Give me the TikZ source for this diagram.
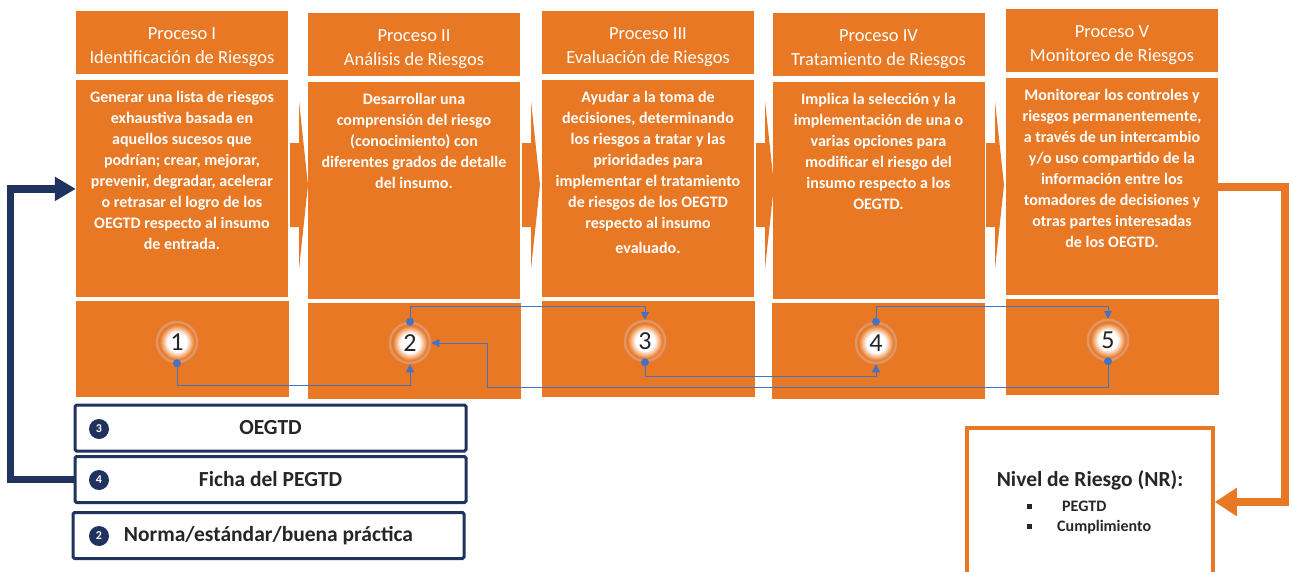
\documentclass[tikz,border=0pt]{standalone}
\usepackage{fontspec}
\setmainfont{Carlito}
\usetikzlibrary{arrows.meta,positioning,calc}
\definecolor{naranja}{RGB}{233,120,36}
\definecolor{anillo}{RGB}{222,150,105}
\definecolor{marino}{RGB}{31,51,94}
\definecolor{azul}{RGB}{68,114,196}
\definecolor{tinta}{RGB}{38,38,38}
\pgfdeclareradialshading{brillo}{\pgfpoint{0bp}{0bp}}{color(0bp)=(white); color(12bp)=(white); color(22bp)=(naranja); color(25bp)=(naranja); color(50bp)=(naranja)}
\newcommand{\bajar}{\rule{0pt}{21pt}}
\tikzset{
>={Triangle},
  cabecera/.style={
    rectangle,
    fill=naranja,
    text=white,
    minimum width=212pt,
    minimum height=63pt,
    inner sep=0pt,
    align=center,
    font=\fontsize{18.5}{24}\selectfont},
  cuerpo/.style={rectangle, fill=naranja, minimum width=212pt,
    minimum height=217pt, inner sep=0pt},
  texto/.style={text=white, align=center, inner sep=0pt,
    font=\bfseries\fontsize{16}{21}\selectfont},
  fila/.style={rectangle, fill=naranja, minimum width=213pt,
    minimum height=96pt, inner sep=0pt},
  numero/.style={
    circle,
    minimum size=40pt,
    inner sep=0pt,
    shading=brillo,
    draw=anillo, line width=2.5pt,
    text=tinta,
    font=\fontsize{26}{26}\selectfont},
  insumo/.style={
    rectangle,
    rounded corners=1.5pt,
    draw=marino, line width=3pt,
    fill=white,
    minimum width=391pt,
    minimum height=46pt,
    text=tinta,
    font=\bfseries\fontsize{21.5}{21.5}\selectfont},
  ficha/.style={circle, fill=marino, text=white, minimum size=20pt,
    inner sep=0pt, font=\bfseries\fontsize{12}{12}\selectfont},
}

\begin{document}
\begin{tikzpicture}[
    x=1pt, y=-1pt,
    flujo/.style={draw=azul, line width=1pt, -{Triangle[length=8pt,width=8pt]}},
    punto/.style={fill=azul},
    retro/.style={draw=marino, line width=7.5pt, -{Triangle[length=21pt,width=23pt]}},
    salida/.style={draw=naranja, line width=8pt, -{Triangle[length=22pt,width=27pt]}},
    cajanr/.style={draw=naranja, line width=3.5pt, minimum width=246pt,
      minimum height=148pt},
    vineta/.style={text=tinta, inner sep=0pt, text height=11pt, text depth=3pt,
      font=\bfseries\fontsize{16}{16}\selectfont}
    ]

    \useasboundingbox (0,0) rectangle (1293,571);

    %chevrons between the processes
    \foreach \x in {288,520,754,984}
      \fill[naranja] (\x+2,143) -- ++(9,0) -- ++(0,-42) -- (\x+20,185)
        -- (\x+11,269) -- ++(0,-42) -- (\x+2,227) -- cycle;

    %headers
    \node[cabecera] (h1) at (182,42.5) {\bajar Proceso I\\Identificación de Riesgos};
    \node[cabecera] (h2) at (414,44.5) {\bajar Proceso II\\Análisis de Riesgos};
    \node[cabecera] (h3) at (648,42.5) {\bajar Proceso III\\Evaluación de Riesgos};
    \node[cabecera] (h4) at (878.5,44.5) {\bajar Proceso IV\\Tratamiento de Riesgos};
    \node[cabecera] (h5) at (1112,40.5) {\bajar Proceso V\\Monitoreo de Riesgos};

    %bodies
    \node[cuerpo, below=6pt of h1] (c1) {};
    \node[cuerpo, below=6pt of h2] (c2) {};
    \node[cuerpo, below=6pt of h3] (c3) {};
    \node[cuerpo, below=6pt of h4] (c4) {};
    \node[cuerpo, below=6pt of h5] (c5) {};

    \node[texto, below=11pt of c1.north] (t1) {Generar una lista de riesgos\\
      exhaustiva basada en\\ aquellos sucesos que\\ podrían; crear, mejorar,\\
      prevenir, degradar, acelerar\\ o retrasar el logro de los\\
      OEGTD respecto al insumo\\ de entrada.};
    \node[texto, below=11pt of c2.north] (t2) {Desarrollar una\\
      comprensión del riesgo\\ (conocimiento) con\\
      diferentes grados de detalle\\ del insumo.};
    \node[texto, below=11pt of c3.north] (t3) {Ayudar a la toma de\\
      decisiones, determinando\\ los riesgos a tratar y las\\ prioridades para\\
      implementar el tratamiento\\ de riesgos de los OEGTD\\
      respecto al insumo\\[3.5pt] evaluado.};
    \node[texto, below=11pt of c4.north] (t4) {Implica la selección y la\\
      implementación de una o\\ varias opciones para\\ modificar el riesgo del\\
      insumo respecto a los\\ OEGTD.};
    \node[texto, below=11pt of c5.north] (t5) {Monitorear los controles y\\
      riesgos permanentemente,\\ a través de un intercambio\\
      y/o uso compartido de la\\ información entre los\\
      tomadores de decisiones y\\ otras partes interesadas\\ de los OEGTD.};

    %rows with the numbers
    \node[fila, below=3pt of c1] (fl1) {};
    \node[fila, below=3pt of c2] (fl2) {};
    \node[fila, below=3pt of c3] (fl3) {};
    \node[fila, below=3pt of c4] (fl4) {};
    \node[fila, below=3pt of c5] (fl5) {};

    \node[numero] (n1) at (177,342) {1};
    \node[numero] (n2) at (410,343) {2};
    \node[numero] (n3) at (645,341) {3};
    \node[numero] (n4) at (876,343) {4};
    \node[numero] (n5) at (1108,340) {5};

    %links between the numbers
    \coordinate (codo) at (487,387);
    \draw[flujo] (n1.south) -- ++(0,22) -| (n2.south);
    \draw[flujo] (n2.north) -- ++(0,-15) -| (n3.north);
    \draw[flujo] (n3.south) -- ++(0,14) -| (n4.south);
    \draw[flujo] (n4.north) -- ++(0,-15) -| (n5.north);
    \draw[flujo] (n5.south) |- (codo) |- (n2.east);
    \foreach \n in {n1.south,n2.north,n3.south,n4.north,n5.south}
      \fill[punto] (\n) circle (4pt);

    %inputs
    \node[insumo] (in3) at (270.5,428) {OEGTD};
    \node[insumo] (in4) at (270.5,479.5) {Ficha del PEGTD};
    \node[insumo] (in2) at (268.5,535.5) {Norma/estándar/buena práctica};
    \node[ficha] (b3) at (99,429) {3};
    \node[ficha] (b4) at (99,480) {4};
    \node[ficha] (b2) at (99,536) {2};

    \draw[retro] (in4.west) -- ++(-63,0) |- (c1.west);

    %risk level
    \node[cajanr] (nr) at (1090,502) {};
    \node[vineta, font=\bfseries\fontsize{21.5}{21.5}\selectfont] (tnr) at (1090,482)
      {Nivel de Riesgo (NR):};
    \node[vineta, anchor=west] (v1) at (1027,507)
      {\raisebox{2.5pt}{\rule{5pt}{5pt}}\hspace{30pt}PEGTD};
    \node[vineta, anchor=west] (v2) at (1027,527)
      {\raisebox{2.5pt}{\rule{5pt}{5pt}}\hspace{25pt}Cumplimiento};

    \draw[salida] (c5.east) -- ++(67,0) |- (nr.east);

\end{tikzpicture}
\end{document}
